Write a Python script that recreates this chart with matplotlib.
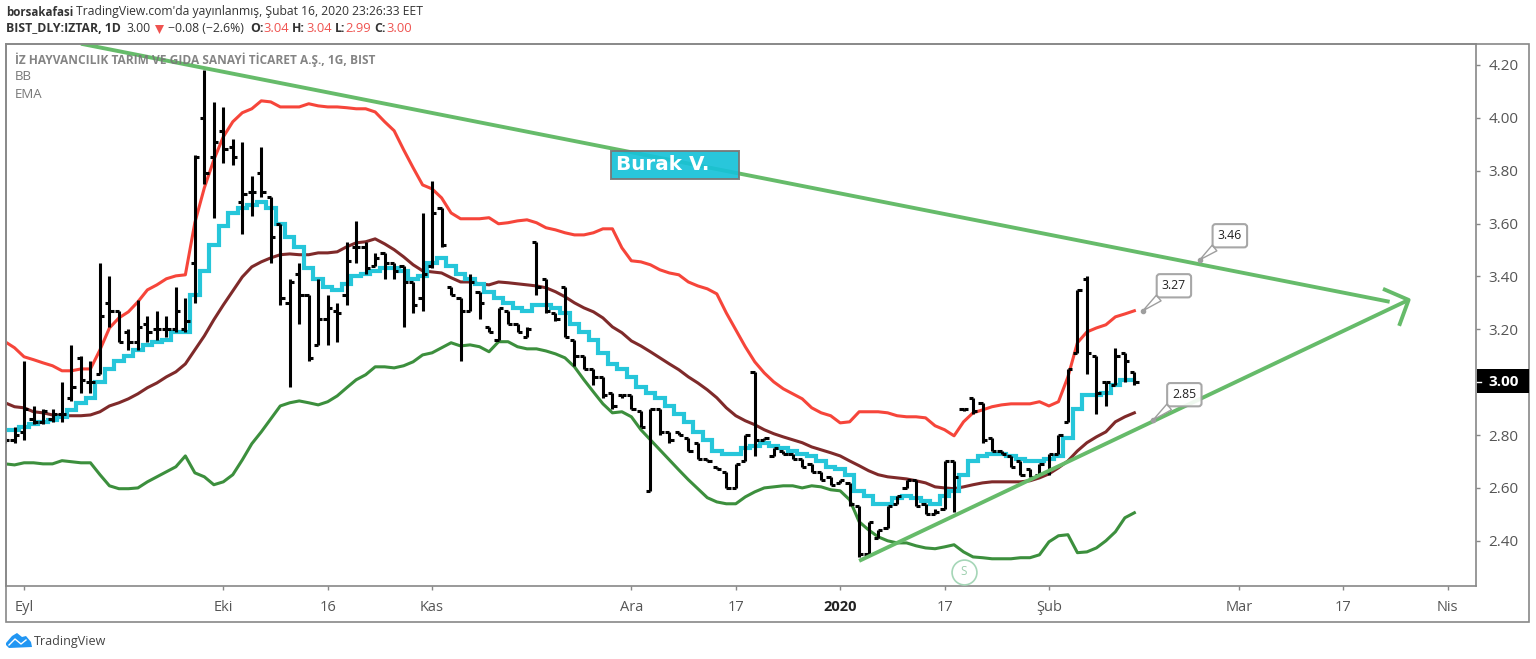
import numpy as np
import matplotlib
matplotlib.use("Agg")
import matplotlib.pyplot as plt
from matplotlib.patches import Rectangle, Polygon

plt.rcParams["font.family"] = ["Open Sans", "DejaVu Sans"]

# daily bars of BIST_DLY:IZTAR, first entry is the one cut off by the left edge
first_bar = -2
opens = [2.78, 2.78, 2.81, 2.86, 2.85, 2.86, 2.88, 2.94, 3.09, 3.00,
         3.03, 3.30, 3.27, 3.19, 3.15, 3.22, 3.20, 3.20, 3.20, 3.20,
         3.45, 4.00, 3.85, 3.95, 3.89, 3.68, 3.72, 3.79, 3.70, 3.60,
         3.30, 3.41, 3.33, 3.14, 3.24, 3.27, 3.33, 3.51, 3.51, 3.44,
         3.49, 3.45, 3.44, 3.38, 3.32, 3.44, 3.66, 3.36, 3.32, 3.27,
         3.34, 3.21, 3.16, 3.27, 3.22, 3.17, 3.53, 3.39, 3.26, 3.36,
         3.16, 3.10, 3.05, 3.02, 2.96, 2.95, 2.95, 2.89, 2.59, 2.90,
         2.81, 2.81, 2.79, 2.77, 2.71, 2.68, 2.66, 2.60, 2.70, 3.04,
         2.78, 2.72, 2.74, 2.73, 2.71, 2.69, 2.66, 2.64, 2.62, 2.62,
         2.53, 2.35, 2.41, 2.45, 2.54, 2.60, 2.63, 2.54, 2.50, 2.52,
         2.70, 2.90, 2.94, 2.92, 2.79, 2.74, 2.72, 2.70, 2.67, 2.65,
         2.66, 2.73, 2.85, 3.11, 3.39, 3.10, 3.00, 2.99, 3.11, 3.04]
highs = [2.79, 2.83, 3.08, 2.91, 2.90, 2.90, 3.00, 3.14, 3.10, 3.08,
         3.45, 3.40, 3.27, 3.20, 3.31, 3.25, 3.27, 3.25, 3.36, 3.32,
         3.86, 4.18, 4.06, 4.04, 3.92, 3.91, 3.78, 3.89, 3.70, 3.60,
         3.39, 3.45, 3.33, 3.39, 3.33, 3.30, 3.53, 3.61, 3.53, 3.49,
         3.49, 3.45, 3.44, 3.38, 3.64, 3.76, 3.66, 3.36, 3.32, 3.41,
         3.34, 3.21, 3.28, 3.27, 3.22, 3.21, 3.53, 3.39, 3.26, 3.36,
         3.16, 3.10, 3.05, 3.02, 2.96, 2.95, 2.95, 2.89, 2.90, 2.90,
         2.81, 2.81, 2.79, 2.77, 2.71, 2.68, 2.66, 2.69, 2.80, 3.04,
         2.79, 2.75, 2.74, 2.73, 2.71, 2.69, 2.66, 2.64, 2.63, 2.62,
         2.53, 2.47, 2.44, 2.53, 2.57, 2.63, 2.63, 2.54, 2.52, 2.70,
         2.70, 2.90, 2.94, 2.92, 2.79, 2.74, 2.72, 2.70, 2.67, 2.69,
         2.73, 2.80, 3.05, 3.35, 3.40, 3.10, 3.00, 3.13, 3.11, 3.04]
lows = [2.77, 2.77, 2.78, 2.84, 2.84, 2.85, 2.85, 2.93, 2.96, 2.96,
        3.03, 3.21, 3.15, 3.12, 3.12, 3.15, 3.16, 3.17, 3.19, 3.19,
        3.30, 3.75, 3.62, 3.83, 3.82, 3.56, 3.63, 3.70, 3.45, 3.29,
        2.98, 3.22, 3.08, 3.14, 3.14, 3.15, 3.29, 3.45, 3.41, 3.44,
        3.39, 3.39, 3.21, 3.26, 3.27, 3.43, 3.51, 3.33, 3.08, 3.27,
        3.24, 3.19, 3.16, 3.22, 3.19, 3.17, 3.33, 3.26, 3.23, 3.17,
        3.06, 3.05, 2.99, 2.94, 2.90, 2.94, 2.90, 2.83, 2.59, 2.80,
        2.77, 2.80, 2.74, 2.71, 2.70, 2.67, 2.60, 2.60, 2.70, 2.72,
        2.78, 2.72, 2.73, 2.71, 2.68, 2.66, 2.63, 2.61, 2.62, 2.53,
        2.34, 2.35, 2.41, 2.45, 2.54, 2.60, 2.53, 2.50, 2.50, 2.52,
        2.51, 2.89, 2.88, 2.77, 2.74, 2.73, 2.68, 2.65, 2.64, 2.65,
        2.65, 2.73, 2.85, 3.11, 3.03, 2.88, 2.91, 2.99, 3.00, 2.99]
closes = [2.78, 2.80, 2.90, 2.85, 2.89, 2.88, 2.88, 2.98, 3.01, 3.00,
          3.25, 3.27, 3.15, 3.15, 3.21, 3.19, 3.20, 3.20, 3.27, 3.23,
          3.85, 3.79, 3.91, 3.88, 3.85, 3.71, 3.72, 3.72, 3.55, 3.32,
          3.38, 3.33, 3.09, 3.24, 3.28, 3.26, 3.46, 3.51, 3.43, 3.47,
          3.45, 3.42, 3.38, 3.29, 3.41, 3.64, 3.52, 3.33, 3.27, 3.38,
          3.30, 3.19, 3.28, 3.22, 3.19, 3.20, 3.36, 3.27, 3.24, 3.17,
          3.10, 3.05, 3.02, 2.95, 2.91, 2.95, 2.90, 2.83, 2.90, 2.81,
          2.78, 2.80, 2.74, 2.71, 2.70, 2.67, 2.60, 2.69, 2.80, 2.78,
          2.79, 2.75, 2.73, 2.71, 2.68, 2.66, 2.63, 2.61, 2.63, 2.54,
          2.35, 2.47, 2.44, 2.53, 2.57, 2.63, 2.53, 2.50, 2.51, 2.70,
          2.64, 2.90, 2.89, 2.78, 2.74, 2.73, 2.68, 2.65, 2.64, 2.69,
          2.73, 2.80, 3.05, 3.35, 3.11, 2.96, 3.00, 3.10, 3.08, 3.00]

ema = [2.82, 2.82, 2.83, 2.84, 2.85, 2.855, 2.87, 2.895, 2.92, 2.94,
       3.00, 3.05, 3.08, 3.10, 3.12, 3.14, 3.15, 3.16, 3.19, 3.19,
       3.33, 3.42, 3.52, 3.59, 3.64, 3.66, 3.67, 3.68, 3.66, 3.60,
       3.55, 3.51, 3.43, 3.39, 3.36, 3.35, 3.37, 3.40, 3.41, 3.42,
       3.43, 3.43, 3.42, 3.39, 3.40, 3.45, 3.47, 3.44, 3.41, 3.39,
       3.37, 3.34, 3.32, 3.30, 3.28, 3.27, 3.29, 3.29, 3.28, 3.26,
       3.22, 3.19, 3.16, 3.11, 3.07, 3.05, 3.02, 2.98, 2.96, 2.94,
       2.91, 2.88, 2.85, 2.81, 2.78, 2.74, 2.73, 2.73, 2.75, 2.76,
       2.77, 2.76, 2.75, 2.74, 2.73, 2.72, 2.70, 2.68, 2.67, 2.65,
       2.59, 2.57, 2.54, 2.54, 2.56, 2.57, 2.56, 2.55, 2.54, 2.57,
       2.59, 2.65, 2.70, 2.72, 2.73, 2.73, 2.72, 2.71, 2.70, 2.70,
       2.71, 2.72, 2.79, 2.90, 2.95, 2.95, 2.96, 2.99, 3.01, 3.01]
bb_upper = [3.153, 3.130, 3.096, 3.085, 3.073, 3.062, 3.043, 3.043, 3.050, 3.050,
            3.122, 3.205, 3.243, 3.266, 3.304, 3.349, 3.368, 3.391, 3.402, 3.406,
            3.603, 3.735, 3.841, 3.928, 3.985, 4.019, 4.034, 4.064, 4.060, 4.041,
            4.041, 4.041, 4.053, 4.045, 4.041, 4.041, 4.038, 4.034, 4.034, 4.022,
            3.985, 3.951, 3.879, 3.811, 3.746, 3.731, 3.697, 3.640, 3.618, 3.618,
            3.618, 3.622, 3.599, 3.603, 3.610, 3.614, 3.603, 3.584, 3.576, 3.565,
            3.557, 3.557, 3.565, 3.580, 3.580, 3.508, 3.459, 3.455, 3.444, 3.425,
            3.413, 3.406, 3.379, 3.364, 3.353, 3.334, 3.262, 3.198, 3.134, 3.077,
            3.035, 3.001, 2.975, 2.956, 2.937, 2.903, 2.884, 2.873, 2.846, 2.850,
            2.888, 2.888, 2.888, 2.884, 2.873, 2.869, 2.869, 2.865, 2.835, 2.820,
            2.797, 2.850, 2.884, 2.895, 2.907, 2.914, 2.918, 2.918, 2.918, 2.926,
            2.910, 2.926, 3.020, 3.149, 3.190, 3.205, 3.217, 3.247, 3.258, 3.270]
bb_basis = [2.922, 2.907, 2.903, 2.888, 2.884, 2.876, 2.873, 2.873, 2.873, 2.876,
            2.888, 2.910, 2.922, 2.937, 2.956, 2.979, 2.997, 3.020, 3.039, 3.069,
            3.122, 3.175, 3.236, 3.292, 3.345, 3.398, 3.436, 3.455, 3.470, 3.482,
            3.485, 3.482, 3.482, 3.489, 3.489, 3.493, 3.512, 3.527, 3.531, 3.542,
            3.523, 3.501, 3.474, 3.444, 3.421, 3.417, 3.413, 3.395, 3.379, 3.379,
            3.372, 3.368, 3.379, 3.376, 3.372, 3.368, 3.364, 3.357, 3.342, 3.323,
            3.300, 3.281, 3.266, 3.243, 3.209, 3.187, 3.156, 3.137, 3.115, 3.092,
            3.069, 3.047, 3.020, 2.997, 2.971, 2.941, 2.903, 2.873, 2.854, 2.839,
            2.820, 2.805, 2.793, 2.782, 2.771, 2.755, 2.744, 2.733, 2.721, 2.702,
            2.684, 2.665, 2.650, 2.642, 2.638, 2.634, 2.627, 2.619, 2.604, 2.600,
            2.597, 2.604, 2.612, 2.619, 2.623, 2.623, 2.623, 2.623, 2.627, 2.638,
            2.653, 2.676, 2.702, 2.740, 2.771, 2.793, 2.812, 2.850, 2.869, 2.884]
bb_lower = [2.691, 2.687, 2.695, 2.695, 2.691, 2.691, 2.703, 2.699, 2.695, 2.695,
            2.650, 2.608, 2.597, 2.597, 2.600, 2.623, 2.642, 2.661, 2.680, 2.721,
            2.657, 2.642, 2.612, 2.623, 2.650, 2.706, 2.767, 2.812, 2.861, 2.910,
            2.922, 2.929, 2.922, 2.914, 2.926, 2.948, 2.979, 3.009, 3.028, 3.058,
            3.058, 3.054, 3.062, 3.077, 3.103, 3.111, 3.130, 3.149, 3.137, 3.141,
            3.134, 3.115, 3.153, 3.153, 3.134, 3.126, 3.126, 3.118, 3.107, 3.092,
            3.058, 3.009, 2.963, 2.918, 2.884, 2.888, 2.869, 2.820, 2.782, 2.744,
            2.706, 2.668, 2.631, 2.597, 2.563, 2.547, 2.540, 2.540, 2.566, 2.585,
            2.600, 2.604, 2.608, 2.608, 2.600, 2.608, 2.604, 2.593, 2.589, 2.555,
            2.472, 2.441, 2.415, 2.400, 2.392, 2.392, 2.381, 2.373, 2.370, 2.377,
            2.385, 2.358, 2.339, 2.336, 2.332, 2.332, 2.332, 2.336, 2.336, 2.347,
            2.396, 2.419, 2.423, 2.355, 2.358, 2.373, 2.400, 2.434, 2.487, 2.506]

# hand-drawn trend lines, (bar, price)
falling_line = [(6.0, 4.28), (143.9, 3.304)]
rising_line = [(88.0, 2.324), (145.9, 3.311)]
arrow_head = [(143.2, 3.353), (145.9, 3.311), (144.9, 3.213)]

# price labels on the drawings: text, anchor bar, anchor price, box offset px
callouts = [("3.46", 123.9, 3.463, 30, 24),
            ("3.27", 117.9, 3.270, 31, 25),
            ("2.85", 119.0, 2.858, 31, 25)]

x_ticks = [0, 21, 32, 43, 64, 75, 86, 97, 108, 128, 139, 150]
x_labels = ["Eyl", "Eki", "16", "Kas", "Ara", "17", "2020", "17", "Şub", "Mar", "17", "Nis"]
y_ticks = [2.4, 2.6, 2.8, 3.2, 3.4, 3.6, 3.8, 4.0, 4.2]
last_close = closes[-1]

W, H = 1536, 659
GRID = "#888888"
fig = plt.figure(figsize=(W / 100, H / 100), dpi=100, facecolor="white")
ax = fig.add_axes([6 / W, 1 - 586 / H, (1476 - 6) / W, (586 - 44) / H])
ax.set_xlim(-1.9, 153.0)
ax.set_ylim(2.229, 4.279)

idx = np.arange(first_bar, first_bar + len(closes))
ax.plot(idx, bb_upper, color="#f6453a", lw=2.2, zorder=2)
ax.plot(idx, bb_basis, color="#7f2a2a", lw=2.2, zorder=2)
ax.plot(idx, bb_lower, color="#3c8f3d", lw=2.2, zorder=2)
ax.step(idx, ema, where="mid", color="#26c6da", lw=3.0, zorder=3, solid_joinstyle="miter")

ax.vlines(idx, lows, highs, color="black", lw=2.2, zorder=4)
ax.hlines(opens, idx - 0.45, idx, color="black", lw=2.2, zorder=4)
ax.hlines(closes, idx, idx + 0.45, color="black", lw=2.2, zorder=4)

green = "#66bb6a"
for line in (falling_line, rising_line, arrow_head):
    xs, ys = zip(*line)
    ax.plot(xs, ys, color=green, lw=2.8, zorder=5, solid_capstyle="butt")

for text, bar, price, dx, dy in callouts:
    ax.annotate(text, xy=(bar, price), xytext=(dx, dy), textcoords="offset pixels",
                ha="center", va="center", fontsize=8.8, color="#222222", zorder=6,
                bbox=dict(boxstyle="round,pad=0.42,rounding_size=0.25", fc="white", ec="#9e9e9e", lw=1.5, alpha=0.9),
                arrowprops=dict(arrowstyle="wedge,tail_width=0.6,shrink_factor=0.5",
                                fc="white", ec="#9e9e9e", lw=1.0, shrinkA=0, shrinkB=0))
    ax.scatter([bar], [price], s=9, color="#9e9e9e", zorder=7)

# split marker
ax.scatter([99], [2.283], s=320, facecolor="white", edgecolor="#a5d6b7", lw=1.2, zorder=6)
ax.text(99, 2.283, "S", ha="center", va="center", fontsize=8.5, color="#9ccfae", zorder=7)

ax.yaxis.tick_right()
ax.set_yticks(y_ticks)
ax.set_yticklabels([f"{v:.2f}" for v in y_ticks])
ax.set_xticks(x_ticks)
ax.set_xticklabels(x_labels)
ax.tick_params(axis="both", length=3, width=1, color=GRID, labelcolor="#555555", labelsize=11)
ax.tick_params(axis="x", pad=7, labelsize=10.5)
ax.tick_params(axis="y", pad=6)
ax.get_xticklabels()[6].set_fontweight("bold")
ax.get_xticklabels()[6].set_color("#222222")
for s in ax.spines.values():
    s.set_color(GRID)
    s.set_linewidth(1.2)

# page furniture is placed in pixels
px = fig.add_axes([0, 0, 1, 1], facecolor="none")
px.set_xlim(0, W)
px.set_ylim(H, 0)
px.axis("off")
px.add_patch(Rectangle((6, 44), 1523, 578, fill=False, edgecolor=GRID, lw=1.2))

# last price tag
px.add_patch(Rectangle((1477, 369), 52, 24, facecolor="black", edgecolor="none"))
px.plot([1477, 1481], [381.5, 381.5], color="white", lw=1)
px.text(1488, 381.5, f"{last_close:.2f}", color="white", fontsize=11, fontweight="bold", va="center")

px.add_patch(Rectangle((611, 151), 128, 28, facecolor="#17c2d8", edgecolor="#777777", lw=1.4, alpha=0.92))
px.text(616.5, 165, "Burak V.", color="white", fontsize=14.4, fontweight="bold", va="center",
        family="DejaVu Sans")

px.text(15, 60, "İZ HAYVANCILIK TARIM VE GIDA SANAYİ TİCARET A.Ş., 1G, BIST", fontsize=8.6,
        fontweight="bold", color="#777777", va="center", alpha=0.9)
px.text(15, 77, "BB", fontsize=9.5, color="#777777", va="center")
px.text(15, 94, "EMA", fontsize=9.5, color="#777777", va="center")

dark = "#333333"
red = "#ef5350"
px.text(6, 12, "borsakafasi", fontsize=8.3, fontweight="bold", color=dark, va="center")
px.text(76.5, 12, "TradingView.com'da yayınlanmış, Şubat 16, 2020 23:26:33 EET", fontsize=8.75, color=dark, va="center")
px.text(6, 29, "BIST_DLY:IZTAR, 1D", fontsize=8.8, fontweight="bold", color=dark, va="center")
px.text(126, 29, "3.00", fontsize=8.8, color=dark, va="center")
px.add_patch(Polygon([(155, 25), (164, 25), (159.5, 34)], facecolor=red, edgecolor="none"))
px.text(168, 29, "−0.08 (−2.6%)", fontsize=8.8, color=dark, va="center")
for head, hx, value, vx in [("O:", 250, "3.04", 263), ("H:", 292, "3.04", 306),
                            ("L:", 335, "2.99", 345), ("C:", 374, "3.00", 386)]:
    px.text(hx, 29, head, fontsize=8.8, fontweight="bold", color=dark, va="center")
    px.text(vx, 29, value, fontsize=9.4, color=red, va="center")

cloud = [(6, 643), (12, 636), (17, 633), (22, 637), (26, 636), (31, 642), (32, 647), (9, 648), (6, 645)]
px.add_patch(Polygon(cloud, facecolor="#2196f3", edgecolor="none"))
px.plot([9, 15, 21, 26], [645, 639, 644, 640], color="white", lw=1)
px.text(33.5, 641, "TradingView", fontsize=9, color="#444444", va="center")

fig.savefig("out.png", dpi=100, facecolor="white")
